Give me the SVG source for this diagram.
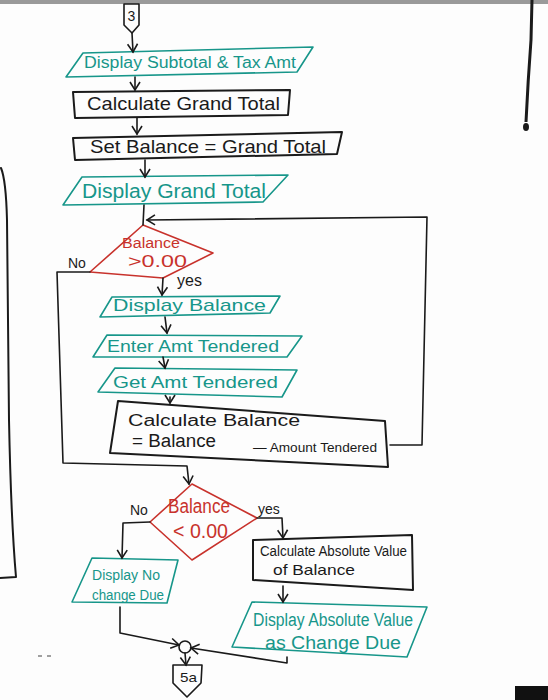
<svg xmlns="http://www.w3.org/2000/svg" width="548" height="700" viewBox="0 0 548 700">
<defs>
<marker id="ah" markerWidth="12" markerHeight="12" refX="10" refY="6" orient="auto" markerUnits="userSpaceOnUse">
<path d="M2,1 L10,6 L2,11" fill="none" stroke="#1a1a1a" stroke-width="1.6"/>
</marker>
<style>
.bk{fill:none;stroke:#1a1a1a;stroke-width:2;stroke-linejoin:round;stroke-linecap:round}
.tl{fill:none;stroke:#17968a;stroke-width:1.6;stroke-linejoin:round}
.rd{fill:none;stroke:#c8322c;stroke-width:1.6;stroke-linejoin:round}
.cn{fill:none;stroke:#1a1a1a;stroke-width:1.6;stroke-linejoin:round;stroke-linecap:round}
.t{font-family:"Liberation Sans","DejaVu Sans",sans-serif}
.tb{fill:#1a1a1a}
.tt{fill:#17968a}
.tr{fill:#c8322c}
</style>
</defs>
<rect x="0" y="0" width="548" height="700" fill="#fdfdfd"/>
<rect x="0" y="0" width="548" height="4" fill="#9a9a9a"/>
<!-- photo edge strokes -->
<path d="M1,168 Q6,180 7,220 L9,420 Q11,520 16,577 L0,578" class="bk" stroke-width="1.6"/>
<path d="M532,0 L531,40 Q528,80 526,122" stroke="#1a1a1a" stroke-width="3" fill="none"/>
<ellipse cx="526" cy="127" rx="3" ry="4" fill="#1a1a1a"/>
<rect x="515" y="686" width="33" height="14" fill="#111"/>
<path d="M38,656 L42,656 M47,656 L51,656" stroke="#444" stroke-width="1.2"/>

<g id="conn3">
<path d="M124,4 L139,4 L139,25 L132,33 L124,25 Z" class="cn"/>
<text x="131.5" y="21" class="t tb" font-size="14" text-anchor="middle">3</text>
</g>
<g id="disp-subtotal">
<path d="M83,53 L313,47 L297,72 L66,77 Z" class="tl"/>
<text x="84" y="68" class="t tt" font-size="16" textLength="212" lengthAdjust="spacingAndGlyphs">Display Subtotal &amp; Tax Amt</text>
</g>
<g id="calc-grand">
<path d="M73,92 L290,90 L288,115 L75,118 Z" class="bk"/>
<text x="87" y="110" class="t tb" font-size="19" textLength="193" lengthAdjust="spacingAndGlyphs">Calculate Grand Total</text>
</g>
<g id="set-balance">
<path d="M73,138 L342,132 L337,154 L75,160 Z" class="bk"/>
<text x="90" y="153" class="t tb" font-size="19" textLength="236" lengthAdjust="spacingAndGlyphs">Set Balance = Grand Total</text>
</g>
<g id="disp-grand">
<path d="M82,177 L288,175 L263,202 L63,205 Z" class="tl"/>
<text x="82" y="198" class="t tt" font-size="20" textLength="184" lengthAdjust="spacingAndGlyphs">Display Grand Total</text>
</g>
<g id="dec1">
<path d="M143,225 L213,253 L163,278 L90,272 Z" class="rd"/>
<text x="122" y="248" class="t tr" font-size="14" textLength="58" lengthAdjust="spacingAndGlyphs">Balance</text>
<text x="128" y="267" class="t tr" font-size="16" textLength="59" lengthAdjust="spacingAndGlyphs">&gt;0.00</text>
</g>
<g id="disp-balance">
<path d="M112,297 L280,296 L270,313 L100,317 Z" class="tl"/>
<text x="113" y="311" class="t tt" font-size="17" textLength="153" lengthAdjust="spacingAndGlyphs">Display Balance</text>
</g>
<g id="enter-amt">
<path d="M107,335 L302,336 L287,357 L93,357 Z" class="tl"/>
<text x="107" y="352" class="t tt" font-size="17" textLength="172" lengthAdjust="spacingAndGlyphs">Enter Amt Tendered</text>
</g>
<g id="get-amt">
<path d="M115,368 L297,370 L282,397 L98,392 Z" class="tl"/>
<text x="113" y="388" class="t tt" font-size="17" textLength="165" lengthAdjust="spacingAndGlyphs">Get Amt Tendered</text>
</g>
<g id="calc-balance">
<path d="M118,401 L385,421 L388,467 L110,453 Z" class="bk" stroke-width="1.6"/>
<text x="128" y="426" class="t tb" font-size="16" textLength="172" lengthAdjust="spacingAndGlyphs">Calculate   Balance</text>
<text x="132" y="447" class="t tb" font-size="18" textLength="84" lengthAdjust="spacingAndGlyphs">= Balance</text>
<text x="253" y="452" class="t tb" font-size="13" textLength="124" lengthAdjust="spacingAndGlyphs">— Amount Tendered</text>
</g>
<g id="dec2">
<path d="M192,484 L257,518 L192,560 L150,522 Z" class="rd"/>
<text x="168" y="513" class="t tr" font-size="20" textLength="62" lengthAdjust="spacingAndGlyphs">Balance</text>
<text x="173" y="538" class="t tr" font-size="20" textLength="55" lengthAdjust="spacingAndGlyphs">&lt; 0.00</text>
</g>
<g id="disp-nochange">
<path d="M92,558 L178,560 L167,603 L72,602 Z" class="tl"/>
<text x="92" y="580" class="t tt" font-size="14" textLength="68" lengthAdjust="spacingAndGlyphs">Display No</text>
<text x="92" y="600" class="t tt" font-size="14" textLength="72" lengthAdjust="spacingAndGlyphs">change Due</text>
</g>
<g id="calc-abs">
<path d="M253,540 L412,535 L413,590 L253,580 Z" class="bk" stroke-width="1.6"/>
<text x="260" y="556" class="t tb" font-size="14" textLength="147" lengthAdjust="spacingAndGlyphs">Calculate Absolute Value</text>
<text x="273" y="575" class="t tb" font-size="15" textLength="82" lengthAdjust="spacingAndGlyphs">of Balance</text>
</g>
<g id="disp-abs">
<path d="M252,602 L427,607 L407,657 L232,647 Z" class="tl"/>
<text x="253" y="626" class="t tt" font-size="18" textLength="160" lengthAdjust="spacingAndGlyphs">Display Absolute Value</text>
<text x="265" y="649" class="t tt" font-size="18" textLength="136" lengthAdjust="spacingAndGlyphs">as  Change Due</text>
</g>
<g id="join">
<circle cx="185" cy="647" r="6" class="cn"/>
</g>
<g id="conn5a">
<path d="M173,665 L202,665 L201,683 L187,697 L173,683 Z" class="cn"/>
<text x="180" y="682" class="t tb" font-size="13" textLength="17" lengthAdjust="spacingAndGlyphs">5a</text>
</g>

<g id="connectors" class="cn" marker-end="url(#ah)">
<path d="M132,33 L133,52"/>
<path d="M135,77 L135,90"/>
<path d="M137,118 L137,134"/>
<path d="M145,160 L145,177"/>
<path d="M144,205 L143,225" marker-end="none"/>
<path d="M390,445 L422,445 L427,217 L147,220"/>
<path d="M163,278 L162,295"/>
<path d="M165,317 L167,333"/>
<path d="M163,357 L165,368"/>
<path d="M170,397 L170,403"/>
<path d="M90,272 L57,272 L63,463 L187,466 L189,484"/>
<path d="M150,522 L123,523 L122,558"/>
<path d="M257,518 L282,518 L283,538"/>
<path d="M283,586 L283,602"/>
<path d="M120,607 L120,633 L179,645"/>
<path d="M287,657 L287,663 L191,648"/>
<path d="M185,653 L186,665"/>
</g>
<text x="68" y="268" class="t tb" font-size="14">No</text>
<text x="177" y="286" class="t tb" font-size="16">yes</text>
<text x="130" y="515" class="t tb" font-size="14">No</text>
<text x="258" y="514" class="t tb" font-size="14">yes</text>
</svg>
